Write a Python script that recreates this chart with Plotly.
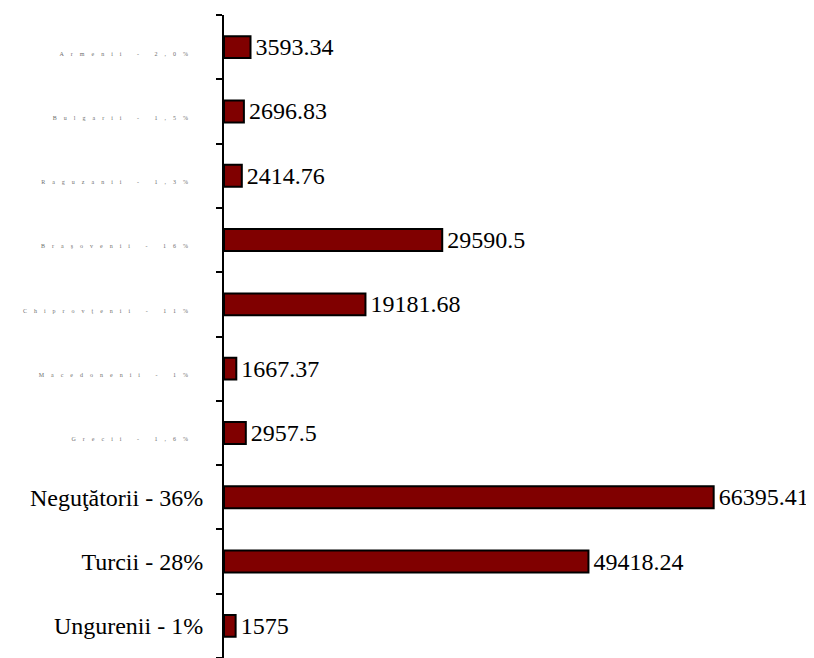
import plotly.graph_objects as go

# categories listed bottom -> top
categories = [
    "Ungurenii - 1%",
    "Turcii - 28%",
    "Neguţătorii - 36%",
    "Grecii - 1,6%",
    "Macedonenii - 1%",
    "Chiprovţenii - 11%",
    "Braşovenii - 16%",
    "Raguzanii - 1,3%",
    "Bulgarii - 1,5%",
    "Armenii - 2,0%",
]
values = [1575, 49418.24, 66395.41, 2957.5, 1667.37, 19181.68, 29590.5, 2414.76, 2696.83, 3593.34]
# labels that are barely legible (faint, spread-out) in the reference
faint = [False, False, False, True, True, True, True, True, True, True]

def fmt(v):
    return ("%.2f" % v).rstrip("0").rstrip(".")

ticktext = []
for c, f in zip(categories, faint):
    if f:
        ticktext.append('<span style="font-size:6px;letter-spacing:7px;fill:#6e6e6e">' + c + '\u2009</span>')
    else:
        ticktext.append(c)

fig = go.Figure(
    go.Bar(
        y=categories,
        x=values,
        orientation="h",
        marker=dict(color="#800000", line=dict(color="black", width=2)),
        text=["\u200a" + fmt(v) for v in values],
        textposition="outside",
        constraintext="none",
        textfont=dict(family="Liberation Serif", size=24, color="black"),
        cliponaxis=False,
    )
)

fig.update_layout(
    width=806,
    height=650,
    margin=dict(l=216, r=0, t=7, b=0, autoexpand=False),
    paper_bgcolor="white",
    plot_bgcolor="white",
    showlegend=False,
    bargap=0.66,
    font=dict(family="Liberation Serif", size=24, color="black"),
)
fig.update_xaxes(range=[0, 80000], visible=False, automargin=False)
fig.update_yaxes(
    type="category",
    categoryorder="array",
    categoryarray=categories,
    tickvals=categories,
    ticktext=ticktext,
    automargin=False,
    showline=True,
    linecolor="black",
    linewidth=2,
    ticks="outside",
    tickson="boundaries",
    ticklen=6,
    tickwidth=2,
    tickcolor="black",
    ticklabelstandoff=14,
    showgrid=False,
    tickfont=dict(family="Liberation Serif", size=24, color="black"),
)

fig.write_html("out.html")
